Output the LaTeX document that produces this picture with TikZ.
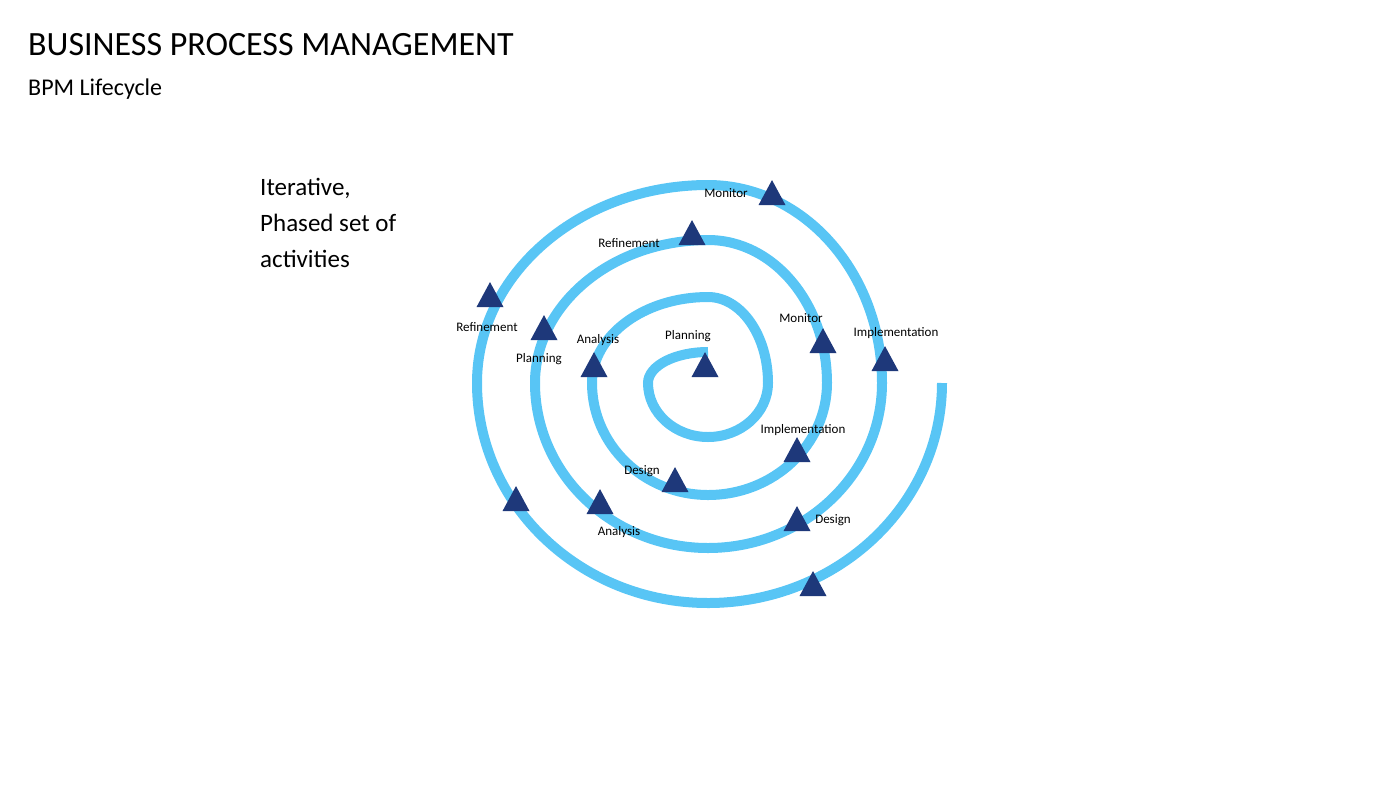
\documentclass[tikz,border=0pt]{standalone}
\usepackage{fontspec}
\setmainfont{Carlito}
\usetikzlibrary{shapes.geometric}
\definecolor{spir}{RGB}{88,197,245}
\definecolor{navy}{RGB}{30,56,122}
\tikzset{
  tri/.style={isosceles triangle,shape border rotate=90,isosceles triangle stretches,fill=navy,inner sep=0pt,minimum width=27pt,minimum height=25pt},
  lbl/.style={font=\fontsize{13}{15}\selectfont,inner sep=0pt},
}
\begin{document}
\begin{tikzpicture}[x=1pt,y=-1pt]
\useasboundingbox (0,0) rectangle (1400,788);
\node[anchor=base west,inner sep=0pt,font=\fontsize{34}{38}\selectfont] (title) at (28,55) {BUSINESS PROCESS MANAGEMENT};
\node[anchor=base west,inner sep=0pt,font=\fontsize{24}{28}\selectfont] (sub) at (28,95) {BPM Lifecycle};
\node[anchor=north west,inner sep=0pt,align=left,font=\fontsize{25}{36}\selectfont] (desc) at (260,178) {Iterative,\\Phased set of\\activities};
\draw[spir,line width=10pt] (708,352)
  arc[start angle=270,end angle=180,x radius=60,y radius=31]
  arc[start angle=180,end angle=90,x radius=60,y radius=54]
  arc[start angle=90,end angle=0,x radius=60,y radius=54]
  arc[start angle=0,end angle=-90,x radius=60,y radius=86]
  arc[start angle=-90,end angle=-180,x radius=116,y radius=86]
  arc[start angle=180,end angle=90,x radius=116,y radius=112]
  arc[start angle=90,end angle=0,x radius=119,y radius=112]
  arc[start angle=0,end angle=-90,x radius=119,y radius=143]
  arc[start angle=-90,end angle=-180,x radius=173,y radius=143]
  arc[start angle=180,end angle=90,x radius=173,y radius=165]
  arc[start angle=90,end angle=0,x radius=174,y radius=165]
  arc[start angle=0,end angle=-90,x radius=174,y radius=198]
  arc[start angle=-90,end angle=-180,x radius=231,y radius=198]
  arc[start angle=180,end angle=90,x radius=231,y radius=220]
  arc[start angle=90,end angle=0,x radius=234,y radius=220];
\foreach \n/\p in {t1/{705,369},t2/{594,369},t3/{675,484},t4/{797,454},t5/{823,345},t6/{692,237},t7/{544,332},t8/{600,506},t9/{797,523},t10/{885,363},t11/{772,197},t12/{490,299},t13/{516,503},t14/{813,588}}
  \node[tri] (\n) at (\p) {};
\node[lbl] (l1) at (688,336) {Planning};
\node[lbl] (l2) at (598,340) {Analysis};
\node[lbl] (l3) at (642,471) {Design};
\node[lbl] (l4) at (803,430) {Implementation};
\node[lbl] (l5) at (801,318) {Monitor};
\node[lbl] (l6) at (629,243) {Refinement};
\node[lbl] (l7) at (539,359) {Planning};
\node[lbl] (l8) at (619,532) {Analysis};
\node[lbl] (l9) at (833,520) {Design};
\node[lbl] (l10) at (896,333) {Implementation};
\node[lbl] (l11) at (726,193) {Monitor};
\node[lbl] (l12) at (487,327) {Refinement};
\end{tikzpicture}
\end{document}
